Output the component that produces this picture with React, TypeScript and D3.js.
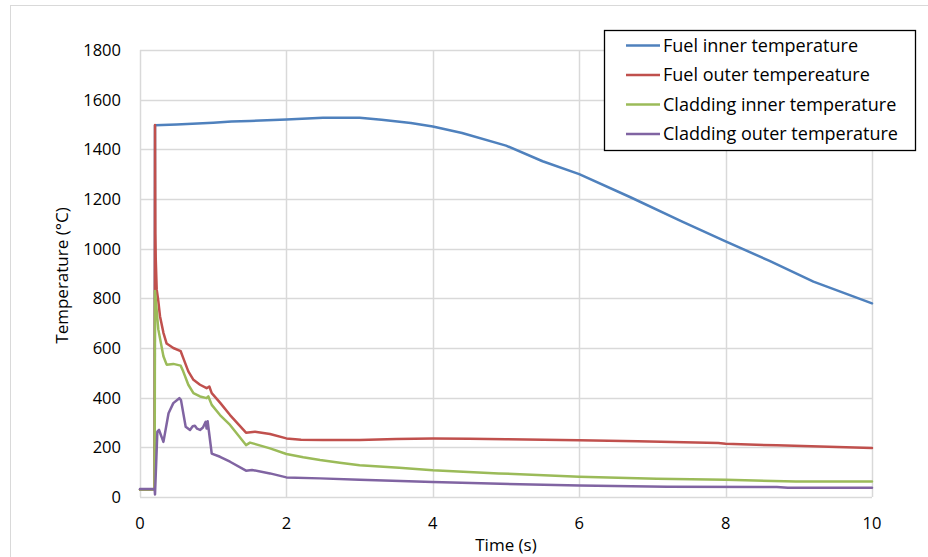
import React from "react";
import * as d3 from "d3";

// ---- Data ----
const fuelInnerTime = [0, 0.19, 0.2, 0.205, 0.5, 1.0, 1.25, 1.5, 2.0, 2.5, 3.0, 3.3, 3.7, 4.0, 4.4, 5.0, 5.5, 6.0, 6.7, 7.4, 8.0, 8.6, 9.2, 10];
const fuelInnerTemp = [30, 30, 30, 1497, 1500, 1507, 1512, 1514, 1520, 1527, 1527, 1519, 1506, 1492, 1466, 1415, 1352, 1300, 1207, 1110, 1029, 951, 867, 780];

const fuelOuterTime = [0, 0.195, 0.2, 0.205, 0.21, 0.215, 0.228, 0.25, 0.273, 0.32, 0.364, 0.455, 0.556, 0.59, 0.66, 0.73, 0.82, 0.91, 0.947, 0.98, 1.093, 1.23, 1.448, 1.571, 1.776, 2.0, 2.2, 2.5, 3.0, 3.5, 4.0, 4.5, 5.0, 6.0, 6.8, 7.9, 8.0, 8.7, 10];
const fuelOuterTemp = [30, 30, 30, 1498, 1060, 960, 836, 790, 728, 661, 618, 600, 587, 560, 506, 472, 452, 438, 445, 418, 380, 330, 259, 263, 254, 236, 231, 230, 230, 234, 236, 235, 233, 229, 224, 217, 214, 208, 197];

const cladInnerTime = [0, 0.195, 0.2, 0.205, 0.25, 0.32, 0.364, 0.455, 0.556, 0.59, 0.66, 0.73, 0.82, 0.91, 0.934, 0.98, 1.093, 1.23, 1.448, 1.503, 1.776, 2.0, 2.23, 2.46, 2.73, 3.0, 3.54, 4.0, 4.9, 6.0, 7.06, 8.0, 8.96, 10];
const cladInnerTemp = [30, 30, 30, 830, 675, 567, 533, 536, 529, 506, 452, 418, 405, 398, 405, 371, 330, 290, 209, 219, 196, 173, 160, 149, 138, 128, 118, 108, 95, 82, 73, 69, 62, 62];

const cladOuterTime = [0, 0.19, 0.2, 0.205, 0.237, 0.26, 0.32, 0.39, 0.455, 0.537, 0.56, 0.624, 0.683, 0.72, 0.75, 0.78, 0.82, 0.86, 0.897, 0.91, 0.924, 0.935, 0.98, 1.093, 1.23, 1.448, 1.53, 1.776, 2.0, 2.46, 3.0, 4.0, 6.0, 7.2, 8.7, 8.85, 10];
const cladOuterTemp = [32, 32, 32, 10, 263, 270, 222, 337, 378, 398, 390, 283, 270, 285, 287, 275, 270, 280, 303, 276, 305, 280, 175, 162, 142, 106, 109, 95, 79, 75, 69, 60, 46, 41, 40, 37, 37];

const seriesNames = [
  "Fuel inner temperature",
  "Fuel outer tempereature",
  "Cladding inner temperature",
  "Cladding outer temperature",
];
const seriesColors = ["#4F81BD", "#C0504D", "#9BBB59", "#8064A2"];

const xTicks = [0, 2, 4, 6, 8, 10];
const yTicks = [0, 200, 400, 600, 800, 1000, 1200, 1400, 1600, 1800];

const W = 928;
const H = 557;
const M = { left: 140, right: 872, top: 50, bottom: 497 };
const FONT = "'Open Sans', 'Liberation Sans', sans-serif";

export default function App() {
  const x = d3.scaleLinear().domain([0, 10]).range([M.left, M.right]);
  const y = d3.scaleLinear().domain([0, 1800]).range([M.bottom, M.top]);

  const series = [
    { t: fuelInnerTime, v: fuelInnerTemp },
    { t: fuelOuterTime, v: fuelOuterTemp },
    { t: cladInnerTime, v: cladInnerTemp },
    { t: cladOuterTime, v: cladOuterTemp },
  ];

  const line = d3
    .line<[number, number]>()
    .x((d) => x(d[0]))
    .y((d) => y(d[1]));

  return (
    <svg
      width={W}
      height={H}
      style={{ position: "absolute", left: 0, top: 0, background: "#fff" }}
      fontFamily={FONT}
    >
      <rect x={0} y={0} width={W} height={H} fill="#fff" />
      {/* outer chart frame */}
      <rect x={10.5} y={5.5} width={1000} height={1000} fill="none" stroke="#d9d9d9" strokeWidth={1} />

      {/* horizontal gridlines */}
      {yTicks.map((t) => (
        <line
          key={"hy" + t}
          x1={M.left}
          x2={M.right}
          y1={Math.round(y(t)) + 0.5}
          y2={Math.round(y(t)) + 0.5}
          stroke="#d9d9d9"
          strokeWidth={1.5}
        />
      ))}
      {/* vertical gridlines */}
      {xTicks.map((t) => (
        <line
          key={"vx" + t}
          x1={Math.round(x(t)) + 0.5}
          x2={Math.round(x(t)) + 0.5}
          y1={M.top}
          y2={M.bottom}
          stroke="#d9d9d9"
          strokeWidth={1.5}
        />
      ))}

      {/* y tick labels */}
      {yTicks.map((t) => (
        <text
          key={"yl" + t}
          x={121}
          y={y(t)}
          dy="0.36em"
          textAnchor="end"
          fontSize={16.5}
          fill="#000"
        >
          {t}
        </text>
      ))}
      {/* x tick labels */}
      {xTicks.map((t) => (
        <text
          key={"xl" + t}
          x={x(t)}
          y={523}
          dy="0.36em"
          textAnchor="middle"
          fontSize={16.5}
          fill="#000"
        >
          {t}
        </text>
      ))}

      {/* axis titles */}
      <text x={(M.left + M.right) / 2} y={545} dy="0.36em" textAnchor="middle" fontSize={17} fill="#000">
        Time (s)
      </text>
      <text
        transform={`translate(62, ${(M.top + M.bottom) / 2 + 2}) rotate(-90)`}
        dy="0.36em"
        textAnchor="middle"
        fontSize={17}
        fill="#000"
      >
        Temperature (°C)
      </text>

      {/* series lines */}
      {series.map((s, i) => {
        const pts: [number, number][] = s.t.map((t, k) => [t, s.v[k]]);
        return (
          <path
            key={"s" + i}
            d={line(pts) || ""}
            fill="none"
            stroke={seriesColors[i]}
            strokeWidth={2.5}
            strokeLinejoin="round"
            strokeLinecap="round"
          />
        );
      })}

      {/* legend */}
      <g>
        <rect x={604.5} y={30.5} width={311} height={120} fill="#fff" stroke="#000" strokeWidth={1.3} />
        {seriesNames.map((name, i) => {
          const cy = 45.5 + i * 29.5;
          return (
            <g key={"lg" + i}>
              <line x1={626} x2={660} y1={cy} y2={cy} stroke={seriesColors[i]} strokeWidth={2.5} />
              <text x={663} y={cy} dy="0.36em" fontSize={18} fill="#000">
                {name}
              </text>
            </g>
          );
        })}
      </g>
    </svg>
  );
}
